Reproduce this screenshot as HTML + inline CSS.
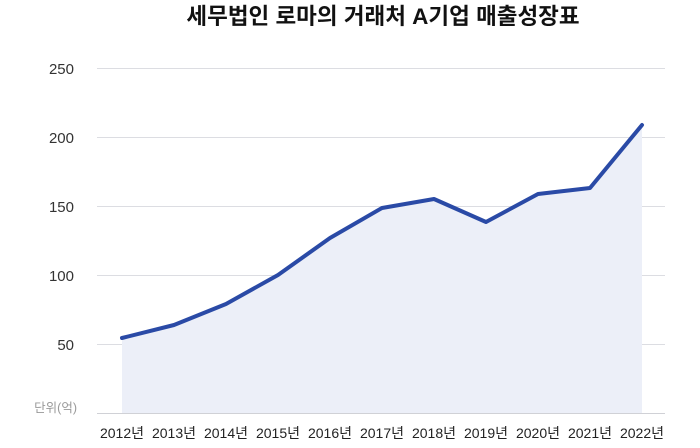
<!DOCTYPE html>
<html><head><meta charset="utf-8"><style>
body{margin:0;background:#fff;}
svg{display:block;font-family:"Liberation Sans","Noto Sans CJK KR",sans-serif;}
</style></head><body>
<svg width="700" height="448" viewBox="0 0 700 448">
<text x="383" y="24" text-anchor="middle" font-size="22.5" font-weight="bold" fill="#111">세무법인 로마의 거래처 A기업 매출성장표</text>
<g stroke="#dcdde2" stroke-width="1">
<line x1="97" y1="68.5" x2="665" y2="68.5"/>
<line x1="97" y1="137.5" x2="665" y2="137.5"/>
<line x1="97" y1="206.5" x2="665" y2="206.5"/>
<line x1="97" y1="275.5" x2="665" y2="275.5"/>
<line x1="97" y1="344.5" x2="665" y2="344.5"/>
</g>
<g font-size="15" fill="#333" text-anchor="end">
<text x="74" y="74">250</text>
<text x="74" y="143">200</text>
<text x="74" y="212">150</text>
<text x="74" y="281">100</text>
<text x="74" y="350">50</text>
</g>
<text x="77" y="412" font-size="12.5" fill="#999" text-anchor="end">단위(억)</text>
<polygon fill="#eceff8" points="122,338 174,325 226,304 278,275 330,238 382,208 434,199 486,222 538,194 590,188 642,125 642,413 122,413"/>
<line x1="97" y1="413.5" x2="665" y2="413.5" stroke="#d0d1d6"/>
<polyline fill="none" stroke="#2a4aa6" stroke-width="4" stroke-linejoin="round" stroke-linecap="round" points="122,338 174,325 226,304 278,275 330,238 382,208 434,199 486,222 538,194 590,188 642,125"/>
<g font-size="14" fill="#222" text-anchor="middle">
<text x="122" y="438">2012년</text><text x="174" y="438">2013년</text><text x="226" y="438">2014년</text><text x="278" y="438">2015년</text><text x="330" y="438">2016년</text><text x="382" y="438">2017년</text><text x="434" y="438">2018년</text><text x="486" y="438">2019년</text><text x="538" y="438">2020년</text><text x="590" y="438">2021년</text><text x="642" y="438">2022년</text>
</g>
</svg>
</body></html>
